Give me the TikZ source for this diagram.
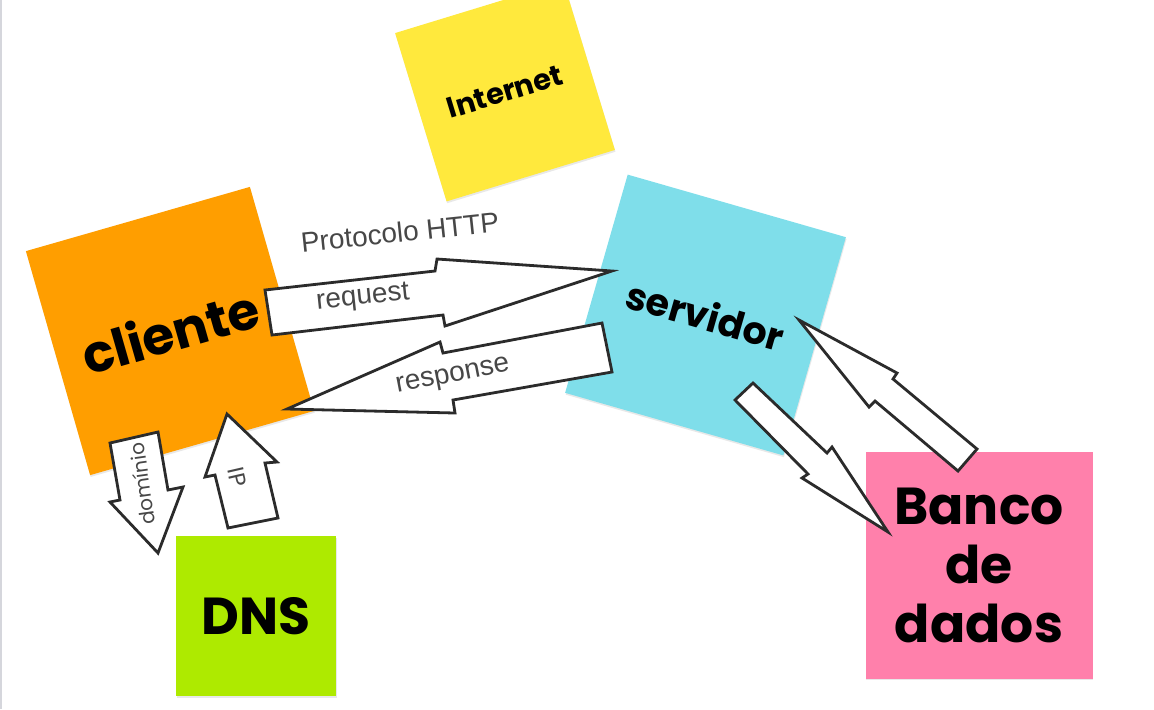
\documentclass[tikz,border=0pt]{standalone}
\usepackage{fontspec}
\setmainfont{Liberation Sans}
\newfontfamily\notefont{Poppins}
\usetikzlibrary{shadows}

\definecolor{clienteorange}{HTML}{FF9E00}
\definecolor{internetyellow}{HTML}{FFE93D}
\definecolor{servidorcyan}{HTML}{7FDEEA}
\definecolor{dnsgreen}{HTML}{AEEA00}
\definecolor{bancopink}{HTML}{FF80AB}
\definecolor{arrowline}{HTML}{2B2B2B}
\definecolor{labelgray}{HTML}{474747}
\definecolor{edgegray}{HTML}{D5D6DC}

\begin{document}
\begin{tikzpicture}[x=0.5pt,y=-0.5pt,
    note/.style={inner sep=0pt, align=center, text=black,
        drop shadow={shadow xshift=0.3pt, shadow yshift=-0.9pt, opacity=0.18}},
    notetext/.style 2 args={font=\notefont\bfseries\fontsize{#1}{#2}\selectfont},
    bigarrow/.style={draw=arrowline, fill=white, line width=1.4pt, line join=miter},
    arrowtext/.style={text=labelgray, inner sep=0pt, font=\fontsize{14}{16}\selectfont},
    smalltext/.style={text=labelgray, inner sep=0pt, font=\notefont\fontsize{#1}{#1}\selectfont}]

    \useasboundingbox (0,0) rectangle (1154,709);
    \fill[white] (0,0) rectangle (1154,709);
    \draw[edgegray, line width=0.75pt] (0.75,0) -- (0.75,709);

    % sticky notes
    \node[note, fill=internetyellow, minimum size=88pt, rotate=17, notetext={14.5}{16}] (internet) at (505,91.5) {Internet};
    \node[note, fill=clienteorange, minimum size=116.5pt, rotate=16, notetext={26}{30}] (cliente) at (170,331) {cliente};
    \node[note, fill=servidorcyan, minimum size=113.5pt, rotate=-16, notetext={19}{22}] (servidor) at (705.5,315) {servidor};
    \node[note, fill=dnsgreen, minimum size=80pt, notetext={26}{30}] (dns) at (256,616) {DNS};
    \node[note, fill=bancopink, minimum size=113.5pt, notetext={26}{29.5}] (banco) at (979,565) {Banco\\de\\dados};

    % block arrows
    \draw[bigarrow] (265,290) -- (435,271) -- (437,259) -- (612,271) -- (445,326) -- (443,315) -- (272,335) -- cycle;
    \draw[bigarrow] (602,323) -- (443,353) -- (440,342) -- (287,409) -- (455,413) -- (453,400) -- (612,372) -- cycle;
    \draw[bigarrow] (110,443) -- (158,432) -- (168,490) -- (183,487) -- (158,553) -- (110,502) -- (120,500) -- cycle;
    \draw[bigarrow] (227,414) -- (277,462) -- (265,463) -- (278,518) -- (228,528) -- (215,475) -- (205,477) -- cycle;
    \draw[bigarrow] (753,383) -- (827,453) -- (832,447) -- (888,532) -- (802,478) -- (808,474) -- (735,400) -- cycle;
    \draw[bigarrow] (799,320) -- (897,373) -- (893,379) -- (977,449) -- (958,471) -- (875,401) -- (869,407) -- cycle;

    % labels
    \node[arrowtext, rotate=6] (protocolo) at (400,232) {Protocolo HTTP};
    \node[arrowtext, rotate=6] (request) at (363,298) {request};
    \node[arrowtext, rotate=11] (response) at (453,377) {response};
    \node[smalltext=10, rotate=98] (dominio) at (142,484) {domínio};
    \node[smalltext=11.5, rotate=-77] (ip) at (237,477) {IP};
\end{tikzpicture}
\end{document}
